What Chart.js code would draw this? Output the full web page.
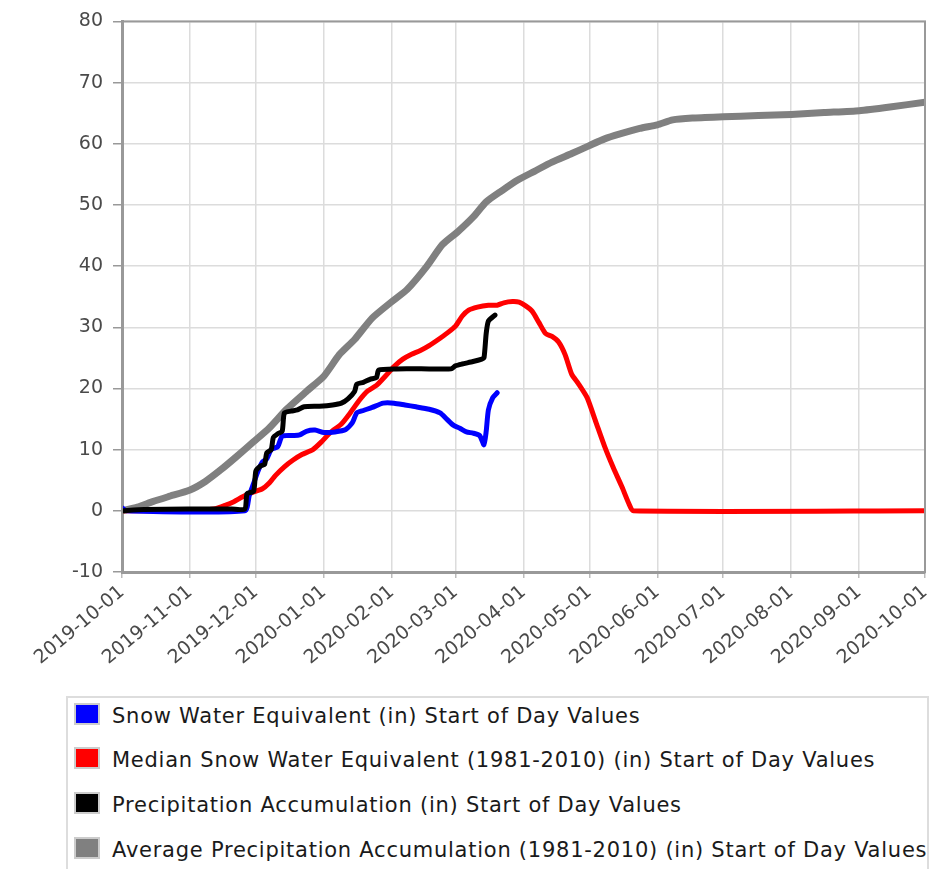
<!DOCTYPE html>
<html>
<head>
<meta charset="utf-8">
<script src="https://cdn.jsdelivr.net/npm/chart.js@4/dist/chart.umd.min.js"></script>
<style>
  body { margin: 0; background: #fff; font-family: "DejaVu Sans", Verdana, sans-serif; }
  #wrap { position: relative; width: 931px; height: 869px; overflow: hidden; }
  #chart { position: absolute; left: 0; top: 0; }
  #legend { position: absolute; left: 66px; top: 696px; width: 863px; height: 200px;
    border: 2px solid #ddd; box-sizing: border-box; }
  .item { position: absolute; left: 6px; height: 22px; line-height: 22px; font-size: 21px; letter-spacing: 0.75px;
    color: #1a1a1a; white-space: nowrap; }
  .item span.t { position: relative; top: 2px; }
  .sw { display: inline-block; width: 22px; height: 18px; vertical-align: top; margin-right: 12px;
    border: 2px solid #ccc; }
</style>
</head>
<body>
<div id="wrap">
  <canvas id="chart" width="931" height="690"></canvas>
  <div id="legend"></div>
</div>
<script>
// day offsets from 2019-10-01
const monthDays = [0, 31, 61, 92, 123, 152, 183, 213, 244, 274, 305, 336, 366];
const monthLabels = ['2019-10-01', '2019-11-01', '2019-12-01', '2020-01-01', '2020-02-01', '2020-03-01',
  '2020-04-01', '2020-05-01', '2020-06-01', '2020-07-01', '2020-08-01', '2020-09-01', '2020-10-01'];

const seriesNames = [
  'Snow Water Equivalent (in) Start of Day Values',
  'Median Snow Water Equivalent (1981-2010) (in) Start of Day Values',
  'Precipitation Accumulation (in) Start of Day Values',
  'Average Precipitation Accumulation (1981-2010) (in) Start of Day Values'
];
const seriesColors = ['#0000ff', '#ff0000', '#000000', '#808080'];

const sweDays = [0, 2, 56, 58, 60, 62, 64, 66, 68, 71, 73, 78, 81, 84, 88, 92, 97, 102, 105, 107, 110, 114, 119, 124,
  129, 134, 140, 145, 148, 151, 154, 157, 160, 163, 165, 166, 167, 169, 171];
const sweVals = [0.5, 0, 0, 2.5, 4.5, 6.5, 8, 8.5, 10, 10.5, 12.2, 12.3, 12.4, 13, 13.2, 12.8, 12.9, 13.3, 14.4, 16, 16.4, 16.9, 17.6, 17.6,
  17.3, 17, 16.6, 16, 15, 14, 13.5, 12.9, 12.7, 12.3, 10.8, 13, 16.5, 18.5, 19.3];

const medDays = [0, 20, 35, 42, 47, 51, 55, 60, 64, 67, 70, 74, 78, 82, 87, 91, 95, 100, 104, 108, 112, 116, 120, 124,
  128, 132, 136, 140, 145, 148, 152, 155, 158, 162, 167, 171, 174, 178, 181, 184, 187, 190, 193, 196, 199, 202,
  205, 208, 212, 216, 220, 224, 228, 231, 233, 366];
const medVals = [0, 0, 0.1, 0.3, 0.9, 1.5, 2.3, 3.1, 3.6, 4.5, 5.8, 7.2, 8.3, 9.2, 10, 11.3, 12.8, 14.2, 16, 18, 19.6, 20.5, 22, 23.6,
  24.8, 25.6, 26.2, 27, 28.2, 29, 30.2, 31.8, 32.8, 33.3, 33.6, 33.6, 34, 34.2, 34.1, 33.5, 32.6, 30.8, 29, 28.5, 27.6, 25.5,
  22.3, 20.8, 18.5, 14.5, 10.5, 7, 3.8, 1.2, 0, 0];

const pcpDays = [0, 10, 30, 50, 56, 57, 60, 61, 63, 65, 66, 68, 69, 71, 73, 74, 77, 80, 83, 90, 96, 100, 103, 106,
  107, 110, 113, 116, 117, 125, 140, 150, 152, 155, 160, 164, 165, 166, 167, 170];
const pcpVals = [0, 0.2, 0.3, 0.3, 0.3, 2.8, 3.2, 6.5, 7.3, 7.6, 9.5, 10, 12, 12.6, 13, 16, 16.3, 16.5, 17, 17.1, 17.3, 17.6, 18.3, 19.5,
  20.7, 21, 21.5, 21.8, 23, 23.2, 23.2, 23.2, 23.7, 24, 24.4, 24.8, 25, 29, 31, 32];

const avgDays = [0, 7, 14, 21, 31, 38, 45, 52, 60, 67, 75, 84, 92, 99, 106, 114, 123, 130, 139, 146, 153, 160, 166, 173,
  180, 188, 196, 205, 213, 220, 227, 236, 244, 251, 260, 274, 290, 305, 320, 336, 350, 366];
const avgVals = [0, 0.6, 1.5, 2.3, 3.4, 4.8, 6.7, 8.8, 11.3, 13.5, 16.6, 19.5, 22, 25.5, 28, 31.5, 34.2, 36.2, 40, 43.5, 45.6, 48, 50.5, 52.3,
  54, 55.5, 57, 58.4, 59.7, 60.8, 61.6, 62.5, 63.1, 63.9, 64.2, 64.4, 64.6, 64.8, 65.1, 65.4, 66, 66.8];

function pts(days, vals) { return days.map((d, i) => ({x: d, y: vals[i]})); }

const frame = {
  id: 'frame',
  afterDraw(chart) {
    const a = chart.chartArea, c = chart.ctx;
    c.save();
    c.strokeStyle = '#999';
    c.lineWidth = 2;
    c.strokeRect(a.left, a.top, a.right - a.left, a.bottom - a.top);
    c.restore();
  }
};

const tickFont = {family: '"DejaVu Sans", Verdana, sans-serif', size: 19};

new Chart(document.getElementById('chart').getContext('2d'), {
  type: 'line',
  data: {
    datasets: [
      {label: seriesNames[0], data: pts(sweDays, sweVals), borderColor: seriesColors[0], borderWidth: 5, order: 1},
      {label: seriesNames[1], data: pts(medDays, medVals), borderColor: seriesColors[1], borderWidth: 5, order: 2},
      {label: seriesNames[2], data: pts(pcpDays, pcpVals), borderColor: seriesColors[2], borderWidth: 5, order: 0},
      {label: seriesNames[3], data: pts(avgDays, avgVals), borderColor: seriesColors[3], borderWidth: 7, order: 3}
    ]
  },
  options: {
    responsive: false,
    animation: false,
    layout: {padding: {top: 21, right: 6, left: 0, bottom: 0}},
    elements: {point: {radius: 0}, line: {tension: 0.2, borderCapStyle: 'round', borderJoinStyle: 'round'}},
    plugins: {legend: {display: false}, tooltip: {enabled: false}},
    scales: {
      x: {
        type: 'linear', min: 0, max: 366,
        afterBuildTicks: s => { s.ticks = monthDays.map(v => ({value: v})); },
        afterFit: s => { s.height = 118; s.paddingRight = 0; s.paddingLeft = 0; },
        ticks: {
          callback: (v) => monthLabels[monthDays.indexOf(v)],
          minRotation: 40, maxRotation: 40, autoSkip: false,
          color: '#4a4a4a', font: tickFont, padding: 3
        },
        grid: {color: '#dcdcdc', lineWidth: 1.5, tickLength: 6, tickColor: '#bbb'},
        border: {color: '#999', width: 3}
      },
      y: {
        min: -10, max: 80,
        afterFit: s => { s.width = 122; },
        ticks: {stepSize: 10, color: '#4a4a4a', font: tickFont, padding: 10},
        grid: {color: '#dcdcdc', lineWidth: 1.5, tickLength: 9, tickColor: '#999'},
        border: {color: '#999', width: 3}
      }
    }
  },
  plugins: [frame]
});

const lg = document.getElementById('legend');
const rowTops = [5, 49, 94, 139];
seriesNames.forEach((n, i) => {
  const d = document.createElement('div');
  d.className = 'item';
  d.style.top = rowTops[i] + 'px';
  d.innerHTML = '<span class="sw" style="background:' + seriesColors[i] + '"></span><span class="t">' + n + '</span>';
  lg.appendChild(d);
});
</script>
</body>
</html>
